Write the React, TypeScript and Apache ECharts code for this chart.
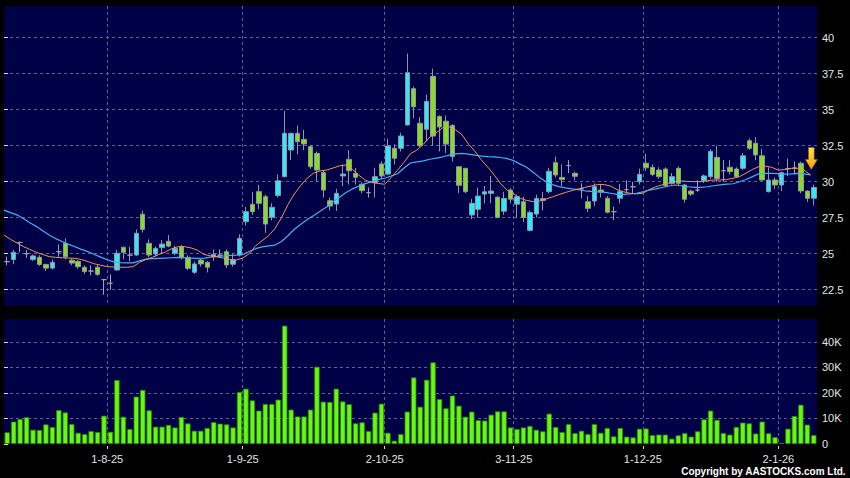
import React, { useEffect, useRef } from 'react';
import * as echarts from 'echarts';

// Trading days (D-M-YY)
const dates: string[] = [
  '10-7-25','11-7-25','14-7-25','15-7-25','16-7-25','17-7-25','18-7-25','21-7-25','22-7-25','23-7-25','24-7-25','25-7-25','28-7-25','29-7-25','30-7-25','31-7-25',
  '1-8-25','4-8-25','5-8-25','6-8-25','7-8-25','8-8-25','11-8-25','12-8-25','13-8-25','14-8-25','15-8-25','18-8-25','19-8-25','20-8-25','21-8-25','22-8-25','25-8-25','26-8-25','27-8-25','28-8-25','29-8-25',
  '1-9-25','2-9-25','3-9-25','4-9-25','5-9-25','8-9-25','9-9-25','10-9-25','11-9-25','12-9-25','15-9-25','16-9-25','17-9-25','18-9-25','19-9-25','22-9-25','23-9-25','24-9-25','25-9-25','26-9-25','29-9-25','30-9-25',
  '2-10-25','3-10-25','6-10-25','8-10-25','9-10-25','10-10-25','13-10-25','14-10-25','15-10-25','16-10-25','17-10-25','20-10-25','21-10-25','22-10-25','23-10-25','24-10-25','27-10-25','28-10-25','30-10-25','31-10-25',
  '3-11-25','4-11-25','5-11-25','6-11-25','7-11-25','10-11-25','11-11-25','12-11-25','13-11-25','14-11-25','17-11-25','18-11-25','19-11-25','20-11-25','21-11-25','24-11-25','25-11-25','26-11-25','27-11-25','28-11-25',
  '1-12-25','2-12-25','3-12-25','4-12-25','5-12-25','8-12-25','9-12-25','10-12-25','11-12-25','12-12-25','15-12-25','16-12-25','17-12-25','18-12-25','19-12-25','22-12-25','23-12-25','24-12-25','29-12-25','30-12-25','31-12-25',
  '2-1-26','5-1-26','6-1-26','7-1-26','8-1-26','9-1-26',
];

const opens: number[] = [
  24.45, 24.6, 25.78, 25.0, 24.6, 24.75, 24.26, 24.0, 25.14, 25.72,
  24.55, 24.47, 24.06, 23.8, 24.06, 23.2, 22.95, 23.87, 25.44, 24.9,
  24.91, 27.74, 25.72, 24.98, 25.42, 25.86, 25.03, 25.49, 24.75, 23.71,
  24.56, 24.4, 24.95, 24.9, 25.14, 24.27, 24.91, 27.22, 28.43, 29.31,
  28.96, 27.53, 29.04, 30.35, 32.2, 33.36, 32.94, 32.43, 31.97, 30.63,
  28.68, 28.45, 30.4, 31.55, 30.58, 29.82, 29.24, 29.93, 31.23, 30.53,
  32.32, 32.32, 33.94, 36.46, 34.06, 33.64, 37.32, 34.53, 34.2, 33.9,
  31.04, 30.93, 27.69, 28.08, 29.14, 29.19, 28.92, 27.95, 29.42, 28.44,
  28.61, 26.62, 27.75, 28.7, 29.31, 31.32, 30.3, 31.12, 30.58, 29.5,
  28.61, 28.66, 29.42, 28.85, 27.92, 28.85, 29.45, 29.65, 30.0, 31.28,
  31.0, 30.81, 30.88, 29.89, 30.93, 29.77, 29.35, 29.42, 30.07, 30.35,
  31.69, 30.76, 31.0, 30.88, 30.93, 32.85, 32.67, 31.8, 29.31, 30.12,
  29.77, 30.9, 30.95, 31.28, 29.35, 28.85,
];
const closes: number[] = [
  24.45, 25.1, 25.78, 25.0, 24.85, 24.26, 24.0, 24.4, 25.14, 24.79,
  24.35, 24.1, 23.76, 23.8, 23.57, 23.2, 22.95, 25.03, 25.1, 24.9,
  26.42, 26.69, 24.91, 25.37, 25.67, 25.53, 25.37, 24.72, 23.99, 24.29,
  24.29, 24.06, 24.8, 24.9, 24.22, 24.56, 26.07, 27.92, 27.92, 28.5,
  27.06, 28.22, 30.06, 33.36, 33.36, 32.78, 32.62, 31.04, 30.81, 29.42,
  28.31, 29.19, 30.53, 30.76, 30.31, 29.38, 29.24, 30.35, 30.4, 32.48,
  31.63, 33.17, 37.57, 35.2, 32.5, 35.58, 33.17, 33.8, 32.61, 31.74,
  29.75, 29.31, 28.5, 29.0, 29.3, 29.35, 27.52, 28.84, 28.79, 28.96,
  27.52, 27.86, 28.84, 28.82, 30.72, 30.47, 30.15, 31.12, 30.38, 29.5,
  28.15, 29.65, 29.28, 27.88, 27.92, 29.31, 29.45, 29.65, 30.51, 30.97,
  30.51, 30.35, 29.72, 30.35, 29.89, 28.78, 29.14, 29.42, 30.4, 32.11,
  30.23, 30.76, 30.7, 30.35, 31.8, 32.32, 31.86, 30.12, 30.12, 29.77,
  30.63, 30.9, 30.95, 29.36, 28.85, 29.6,
];
const lows: number[] = [
  24.2, 24.27, 25.1, 24.7, 24.5, 24.15, 23.8, 23.9, 24.8, 24.62,
  24.2, 23.95, 23.6, 23.5, 23.45, 22.15, 22.48, 23.82, 24.6, 24.48,
  24.85, 26.47, 24.75, 24.8, 25.0, 25.45, 24.9, 24.6, 23.87, 23.6,
  24.1, 23.7, 24.5, 24.7, 24.0, 24.1, 24.8, 26.95, 27.7, 28.1,
  26.45, 27.3, 28.9, 30.3, 31.5, 31.9, 32.2, 30.9, 30.0, 28.9,
  28.0, 27.97, 29.7, 29.8, 29.8, 29.2, 28.9, 28.9, 30.2, 30.45,
  31.2, 32.1, 33.9, 34.4, 32.4, 32.8, 32.5, 32.1, 32.0, 31.4,
  29.2, 29.2, 27.4, 27.5, 28.5, 28.5, 27.45, 27.7, 28.5, 27.5,
  27.2, 26.55, 27.5, 28.0, 29.2, 30.3, 29.7, 30.6, 30.1, 28.85,
  27.9, 28.3, 28.9, 27.8, 27.34, 28.5, 29.2, 29.2, 29.8, 30.75,
  30.4, 30.2, 29.6, 29.8, 29.7, 28.55, 29.0, 29.3, 29.9, 30.2,
  30.0, 30.0, 30.5, 30.3, 30.8, 32.2, 31.5, 30.05, 29.25, 29.5,
  29.35, 30.4, 30.5, 29.2, 28.6, 28.35,
];
const highs: number[] = [
  24.8, 25.26, 25.85, 25.26, 24.95, 24.9, 24.3, 24.6, 25.65, 26.07,
  24.65, 24.55, 24.2, 24.2, 24.2, 23.25, 23.57, 25.26, 25.5, 25.47,
  26.69, 27.98, 26.0, 25.5, 25.95, 26.3, 25.55, 25.6, 24.9, 24.45,
  24.65, 24.5, 25.3, 25.3, 25.3, 25.0, 26.35, 28.25, 29.3, 29.8,
  29.1, 28.5, 30.5, 34.91, 33.4, 33.9, 33.6, 32.55, 32.1, 30.75,
  28.9, 29.5, 31.2, 32.2, 30.95, 29.95, 29.6, 30.97, 31.4, 33.0,
  32.6, 33.4, 38.9, 36.6, 34.5, 36.05, 37.85, 34.6, 34.6, 34.0,
  31.05, 30.95, 28.8, 29.6, 29.7, 30.4, 29.0, 29.3, 29.55, 29.1,
  28.95, 28.0, 29.1, 29.3, 30.95, 31.75, 31.2, 31.5, 30.7, 29.9,
  29.0, 29.88, 29.85, 29.0, 28.27, 29.85, 30.1, 30.0, 30.9, 31.95,
  31.2, 31.0, 31.0, 30.6, 31.05, 29.85, 29.45, 30.1, 30.5, 32.25,
  32.5, 31.5, 31.5, 31.0, 32.0, 33.0, 33.1, 32.3, 31.0, 30.3,
  30.7, 31.6, 31.4, 31.4, 29.4, 29.8,
];

// Moving averages as drawn
const maShort: number[] = [
  26.3, 26.0, 25.75, 25.5, 25.3, 25.1, 24.95, 24.8, 24.75, 24.72,
  24.7, 24.68, 24.6, 24.45, 24.3, 24.2, 24.1, 24.08, 24.06, 24.06,
  24.1, 24.4, 24.6, 24.75, 24.95, 25.12, 25.35, 25.49, 25.49, 25.4,
  25.25, 24.95, 24.85, 24.79, 24.7, 24.6, 24.56, 24.7, 25.0, 25.55,
  25.9, 26.25, 26.75, 27.5, 28.4, 29.15, 29.75, 30.25, 30.6, 30.75,
  30.81, 30.95, 31.1, 31.16, 30.85, 30.45, 30.1, 29.95, 29.88, 29.82,
  30.3, 30.8, 31.35, 31.95, 32.2, 32.6, 33.1, 33.4, 33.75, 33.8,
  33.6, 33.25, 32.6, 32.1, 31.5, 31.0, 30.45, 29.85, 29.4, 29.15,
  28.85, 28.7, 28.62, 28.65, 28.8, 28.95, 29.1, 29.25, 29.38, 29.5,
  29.6, 29.7, 29.8, 29.8, 29.7, 29.45, 29.3, 29.2, 29.15, 29.2,
  29.45, 29.65, 29.78, 29.9, 30.0, 30.05, 30.02, 30.0, 30.0, 30.07,
  30.12, 30.12, 30.15, 30.24, 30.35, 30.6, 30.85, 31.05, 31.08, 31.0,
  30.8, 30.85, 30.93, 30.93, 30.8, 30.47,
];
const maLong: number[] = [
  28.03, 27.85, 27.7, 27.45, 27.15, 26.9, 26.6, 26.3, 26.05, 25.85,
  25.65, 25.48, 25.3, 25.15, 24.95, 24.76, 24.58, 24.43, 24.38, 24.36,
  24.36, 24.5, 24.62, 24.66, 24.68, 24.7, 24.72, 24.74, 24.72, 24.7,
  24.68, 24.7, 24.76, 24.8, 24.84, 24.88, 24.9, 24.93, 25.15, 25.35,
  25.48, 25.55, 25.6, 25.85, 26.25, 26.7, 27.05, 27.38, 27.65, 27.95,
  28.25, 28.6, 28.92, 29.25, 29.5, 29.7, 29.87, 30.0, 30.14, 30.24,
  30.4, 30.55, 30.95, 31.3, 31.38, 31.45, 31.56, 31.64, 31.73, 31.85,
  31.93, 31.97, 31.92, 31.84, 31.77, 31.74, 31.73, 31.68, 31.6, 31.46,
  31.22, 31.0, 30.65, 30.3, 30.0, 29.8, 29.66, 29.57, 29.5, 29.45,
  29.37, 29.33, 29.3, 29.28, 29.2, 29.12, 29.12, 29.15, 29.2, 29.3,
  29.42, 29.5, 29.6, 29.7, 29.77, 29.72, 29.65, 29.6, 29.6, 29.65,
  29.72, 29.78, 29.83, 29.86, 30.0, 30.15, 30.35, 30.55, 30.58, 30.58,
  30.56, 30.53, 30.55, 30.58, 30.55, 30.47,
];

const volumes: number[] = [
  4600, 8800, 9800, 10500, 5600, 5500, 7700, 6700, 13300, 12400,
  7800, 4400, 3900, 5100, 4700, 11100, 4800, 25100, 10700, 5900,
  18600, 21200, 13200, 6800, 6800, 7500, 6500, 10600, 8100, 5200,
  5200, 6300, 8600, 8000, 7700, 6500, 20400, 21700, 17100, 13100,
  15700, 15700, 17400, 46400, 13500, 10800, 10800, 13500, 30300, 16600,
  16500, 21700, 16700, 15600, 8100, 8500, 5100, 12300, 15800, 4400,
  1300, 3900, 12700, 26100, 14600, 25200, 32000, 17600, 14000, 19000,
  15000, 10700, 12700, 9400, 9200, 11500, 12800, 12800, 6500, 5900,
  6500, 7100, 5600, 5000, 11900, 6700, 4700, 7800, 4300, 5200,
  3900, 7800, 4400, 6300, 3000, 6300, 2900, 2600, 6000, 6100,
  3500, 3700, 3700, 2100, 3400, 4300, 2900, 5000, 9700, 13100,
  9500, 4300, 3700, 6700, 8400, 8100, 4100, 8800, 4200, 2700,
  400, 6000, 11000, 15400, 7600, 3500,
];

const monthStartLabels: string[] = ['1-8-25', '1-9-25', '2-10-25', '3-11-25', '1-12-25', '2-1-26'];
const priceTicks: number[] = [22.5, 25, 27.5, 30, 32.5, 35, 37.5, 40];
const volumeTicks: number[] = [0, 10000, 20000, 30000, 40000];

const arrowIndex = 124;
const arrowTip = 30.85;

export default function App() {
  const ref = useRef<HTMLDivElement>(null);

  useEffect(() => {
    if (!ref.current) return;
    const chart = echarts.init(ref.current, undefined, { renderer: 'svg' });
    // day positions (band left edges) where each month starts
    const monthStartIdx = monthStartLabels.map((d) => dates.indexOf(d));
    const gridLine = { color: '#62628f', type: [3, 3], width: 1 };
    const font = 'Liberation Sans, Arial, sans-serif';
    const labelColor = '#e4e4e4';
    const n = dates.length;

    const option: any = {
      animation: false,
      backgroundColor: '#000000',
      grid: [
        { left: 4, top: 6, width: 813, height: 300, show: true, backgroundColor: '#000046', borderWidth: 0, outerBoundsMode: 'none' },
        { left: 4, top: 319, width: 813, height: 125, show: true, backgroundColor: '#000046', borderWidth: 0, outerBoundsMode: 'none' },
      ],
      xAxis: [
        { type: 'category', gridIndex: 0, position: 'top', data: dates, boundaryGap: true, show: false },
        {
          type: 'value', gridIndex: 0, position: 'bottom', min: 0, max: n,
          axisLine: { show: false },
          axisTick: { show: false, customValues: monthStartIdx },
          axisLabel: { show: false, customValues: monthStartIdx },
          splitLine: { show: true, lineStyle: gridLine },
        },
        { type: 'category', gridIndex: 1, position: 'top', data: dates, boundaryGap: true, show: false },
        {
          type: 'value', gridIndex: 1, position: 'bottom', min: 0, max: n, offset: 2,
          axisLine: { show: false },
          axisTick: { show: true, length: 3, customValues: monthStartIdx, lineStyle: { color: '#d8d8d8' } },
          axisLabel: {
            show: true, customValues: monthStartIdx, color: labelColor,
            fontSize: 11, fontFamily: font, margin: 7,
            formatter: (v: number) => dates[Math.round(v)] ?? '',
          },
          splitLine: { show: true, lineStyle: gridLine },
        },
      ],
      yAxis: [
        {
          type: 'value', gridIndex: 0, position: 'right', min: 21.37, max: 42.2,
          minInterval: 2.5, maxInterval: 2.5, offset: 3,
          axisLine: { show: false },
          axisTick: { show: true, length: 4, customValues: priceTicks, lineStyle: { color: '#d8d8d8' } },
          axisLabel: { color: labelColor, fontSize: 11, fontFamily: font, margin: 2, customValues: priceTicks },
          splitLine: { show: true, lineStyle: gridLine },
        },
        {
          type: 'value', gridIndex: 1, position: 'right', min: 0, max: 49000,
          minInterval: 10000, maxInterval: 10000, offset: 3,
          axisLine: { show: false },
          axisTick: { show: true, length: 4, customValues: volumeTicks, lineStyle: { color: '#d8d8d8' } },
          axisLabel: {
            color: labelColor, fontSize: 11, fontFamily: font, margin: 2, customValues: volumeTicks,
            formatter: (v: number) => (v === 0 ? '0' : `${v / 1000}K`),
          },
          splitLine: { show: true, showMinLine: false, lineStyle: gridLine },
        },
      ],
      series: [
        {
          type: 'candlestick', xAxisIndex: 0, yAxisIndex: 0, barWidth: 5,
          data: dates.map((_, i) => [opens[i], closes[i], lows[i], highs[i]]),
          itemStyle: {
            color: '#30e8f8', color0: '#84de26',
            borderColor: '#9494a6', borderColor0: '#9494a6', borderColorDoji: '#a0a0b0', borderWidth: 1,
          },
          markPoint: {
            symbol: 'path://M3.2,0 L8.8,0 L8.8,12 L12,12 L6,22 L0,12 L3.2,12 Z',
            symbolSize: [12, 22], symbolOffset: [4, -11], symbolKeepAspect: false,
            label: { show: false },
            itemStyle: {
              color: new echarts.graphic.LinearGradient(0, 0, 0, 1, [
                { offset: 0, color: '#ffe45a' },
                { offset: 1, color: '#ffa000' },
              ]),
              borderColor: '#a86400', borderWidth: 0.6,
            },
            data: [{ coord: [dates[arrowIndex], arrowTip] }],
          },
        },
        {
          type: 'line', xAxisIndex: 1, yAxisIndex: 0, symbol: 'none', silent: true,
          data: maLong.map((v, i) => [i, v]),
          lineStyle: { color: '#48adf4', width: 1.2 },
        },
        {
          type: 'line', xAxisIndex: 1, yAxisIndex: 0, symbol: 'none', silent: true,
          data: maShort.map((v, i) => [i, v]),
          lineStyle: { color: '#f09458', width: 1 },
        },
        {
          type: 'bar', xAxisIndex: 2, yAxisIndex: 1, barWidth: 5.4,
          data: volumes,
          itemStyle: { color: '#66f814', borderColor: '#2f8000', borderWidth: 0.8 },
        },
        {
          // carries the day axis of the volume panel (draws nothing itself)
          type: 'line', xAxisIndex: 3, yAxisIndex: 1, symbol: 'none', silent: true,
          data: [[0, 0]], lineStyle: { opacity: 0 },
        },
      ],
      graphic: [
        {
          type: 'text', right: 4, top: 466,
          style: { text: 'Copyright by AASTOCKS.com Ltd.', fill: '#ffffff', font: 'bold 10px "Liberation Sans", Arial, sans-serif' },
        },
      ],
    };

    chart.setOption(option);
    return () => chart.dispose();
  }, []);

  return (
    <div
      ref={ref}
      style={{ position: 'fixed', left: 0, top: 0, width: 850, height: 478, background: '#000' }}
    />
  );
}
